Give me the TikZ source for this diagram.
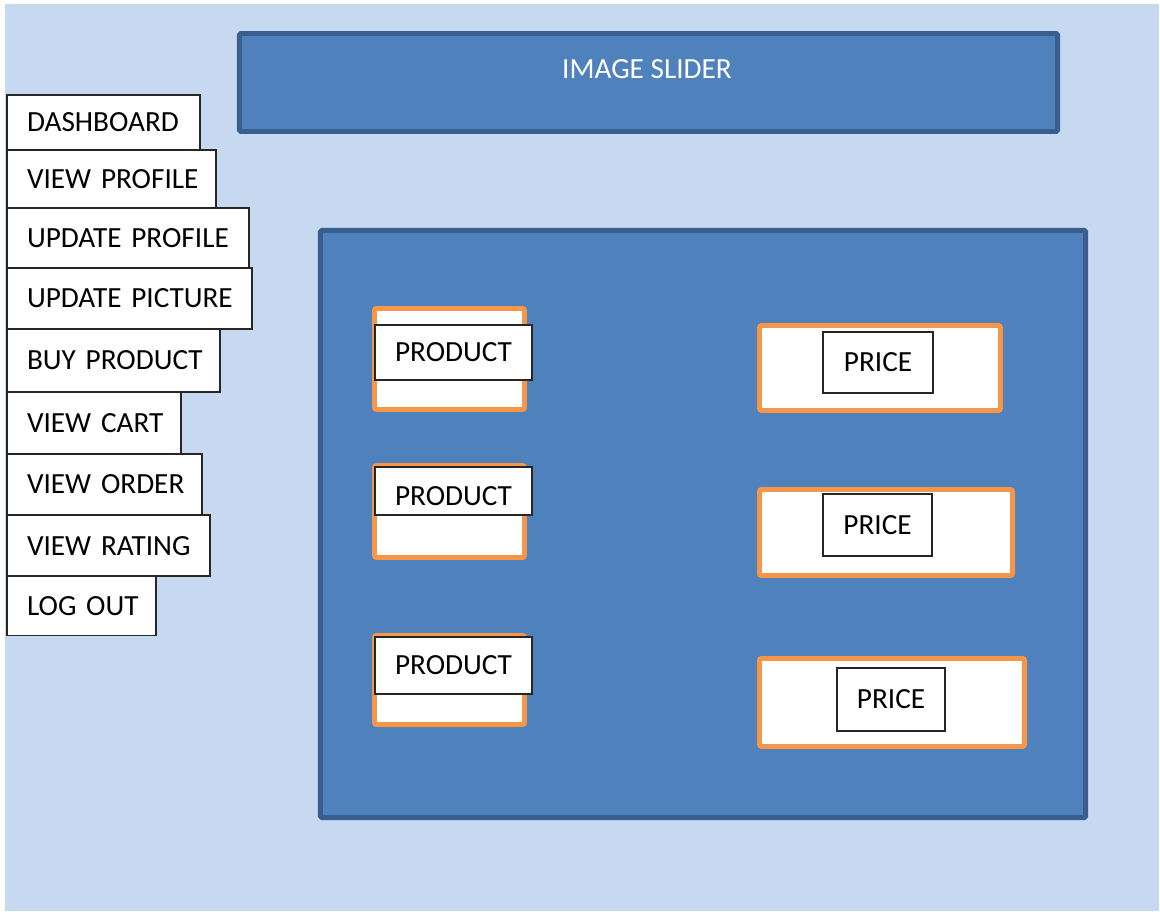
\documentclass[tikz,border=0pt]{standalone}
\usepackage{fontspec}
\setmainfont{Carlito}
\usepackage{tikz}
\usetikzlibrary{positioning}
\definecolor{bgblue}{HTML}{C6D9F0}
\definecolor{panelblue}{HTML}{4F81BD}
\definecolor{panelline}{HTML}{3A5F8E}
\definecolor{cardorange}{HTML}{F79646}
\tikzset{
  panel/.style={rectangle, rounded corners=1pt, draw=panelline, fill=panelblue, line width=3.5pt},
  menu/.style={rectangle, draw=black!85, fill=white, line width=0.9pt, outer sep=0pt, inner xsep=0.5cm, align=left, anchor=north west},
  card/.style={rectangle, rounded corners=1.5pt, draw=cardorange, fill=white, line width=3.5pt},
  tag/.style={rectangle, draw=black!85, fill=white, line width=0.8pt, text centered},
  node distance=0pt
}
\begin{document}
\begin{tikzpicture}[x=0.025cm, y=-0.025cm, font=\fontsize{20.8}{25}\selectfont]
	\useasboundingbox (0,0) rectangle (1160,912);
	\fill[bgblue] (5,4) rectangle (1159,911);

	% top banner and main area
	\node[panel, minimum width=20.45cm, minimum height=2.45cm] (slider) at (648.5,82.5) {};
	\node[text=white] (slidertext) at (647,69) {IMAGE SLIDER};
	\node[panel, minimum width=19.125cm, minimum height=14.675cm] (main) at (703,524) {};

	% side menu
	\node[menu, minimum width=4.825cm, minimum height=1.375cm, text width=3.825cm] (dash) at (7,95) {\mbox{DASHBOARD}};
	\node[menu, minimum width=5.225cm, minimum height=1.45cm, text width=4.225cm, below=of dash.south west, anchor=north west] (vprof) {\mbox{VIEW PROFILE}};
	\node[menu, minimum width=6.05cm, minimum height=1.5cm, text width=5.05cm, below=of vprof.south west, anchor=north west] (uprof) {\mbox{UPDATE PROFILE}};
	\node[menu, minimum width=6.125cm, minimum height=1.525cm, text width=5.125cm, below=of uprof.south west, anchor=north west] (upic) {\mbox{UPDATE PICTURE}};
	\node[menu, minimum width=5.325cm, minimum height=1.575cm, text width=4.325cm, below=of upic.south west, anchor=north west] (buy) {\mbox{BUY PRODUCT}};
	\node[menu, minimum width=4.35cm, minimum height=1.55cm, text width=3.35cm, below=of buy.south west, anchor=north west] (cart) {\mbox{VIEW CART}};
	\node[menu, minimum width=4.875cm, minimum height=1.525cm, text width=3.875cm, below=of cart.south west, anchor=north west] (order) {\mbox{VIEW ORDER}};
	\node[menu, minimum width=5.075cm, minimum height=1.525cm, text width=4.075cm, below=of order.south west, anchor=north west] (rating) {\mbox{VIEW RATING}};
	\node[menu, minimum width=3.725cm, minimum height=1.475cm, text width=2.725cm, below=of rating.south west, anchor=north west] (logout) {\mbox{LOG OUT}};

	% products
	\node[card, minimum width=3.75cm, minimum height=2.525cm] (prodA) at (449.5,359) {};
	\node[card, minimum width=3.75cm, minimum height=2.3cm] (prodB) at (449.5,511.5) {};
	\node[card, minimum width=3.75cm, minimum height=2.225cm] (prodC) at (449.5,680) {};
	\node[tag, minimum width=3.925cm, minimum height=1.375cm] (prodtagA) at (453.5,352.5) {PRODUCT};
	\node[tag, minimum width=3.925cm, minimum height=1.2cm, text height=21pt] (prodtagB) at (453.5,491) {PRODUCT};
	\node[tag, minimum width=3.925cm, minimum height=1.425cm] (prodtagC) at (453.5,665.5) {PRODUCT};

	% prices
	\node[card, minimum width=6.025cm, minimum height=2.125cm] (priceA) at (880,368) {};
	\node[card, minimum width=6.325cm, minimum height=2.15cm] (priceB) at (886,532.5) {};
	\node[card, minimum width=6.625cm, minimum height=2.2cm] (priceC) at (892,702.5) {};
	\node[tag, minimum width=2.75cm, minimum height=1.525cm] (pricetagA) at (878,362.5) {PRICE};
	\node[tag, minimum width=2.725cm, minimum height=1.55cm] (pricetagB) at (877.5,525) {PRICE};
	\node[tag, minimum width=2.7cm, minimum height=1.575cm] (pricetagC) at (891,699.5) {PRICE};
\end{tikzpicture}
\end{document}
